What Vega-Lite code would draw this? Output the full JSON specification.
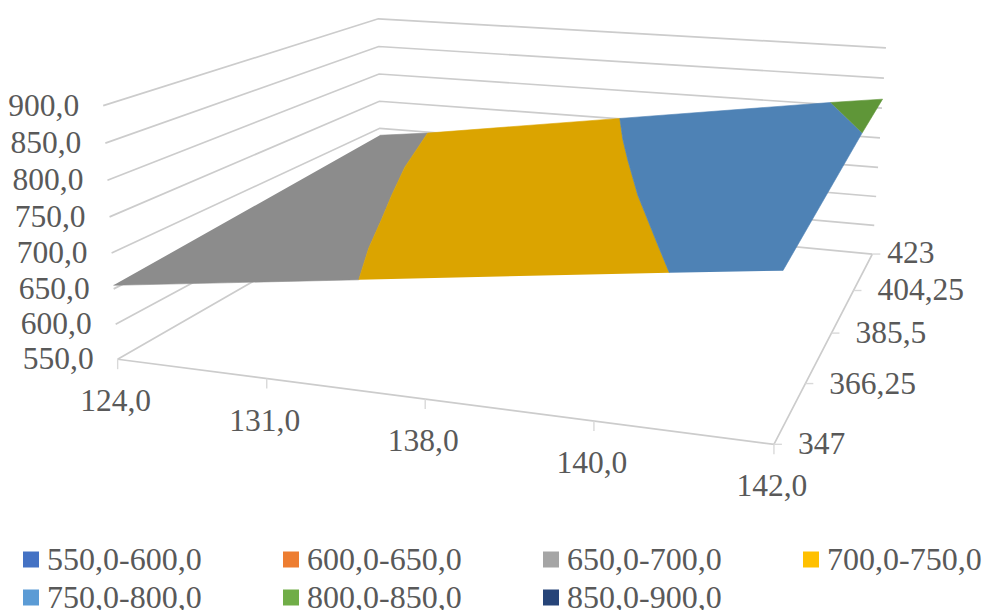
{
  "$schema": "https://vega.github.io/schema/vega-lite/v6.json",
  "width": 983,
  "height": 610,
  "autosize": {"type": "fit", "contains": "padding"},
  "padding": 0,
  "background": "#ffffff",
  "view": {"stroke": null},
  "config": {"text": {"font": "Liberation Serif", "fontSize": 31.5, "fill": "#595959"}},
  "datasets": {
    "rows": [
      {"kind":"grid","line":"550","seq":0,"cat":0,"depth":0,"value":550},{"kind":"grid","line":"550","seq":1,"cat":0,"depth":4,"value":550},{"kind":"grid","line":"550","seq":2,"cat":4,"depth":4,"value":550},
      {"kind":"grid","line":"600","seq":0,"cat":0,"depth":0,"value":600},{"kind":"grid","line":"600","seq":1,"cat":0,"depth":4,"value":600},{"kind":"grid","line":"600","seq":2,"cat":4,"depth":4,"value":600},
      {"kind":"grid","line":"650","seq":0,"cat":0,"depth":0,"value":650},{"kind":"grid","line":"650","seq":1,"cat":0,"depth":4,"value":650},{"kind":"grid","line":"650","seq":2,"cat":4,"depth":4,"value":650},
      {"kind":"grid","line":"700","seq":0,"cat":0,"depth":0,"value":700},{"kind":"grid","line":"700","seq":1,"cat":0,"depth":4,"value":700},{"kind":"grid","line":"700","seq":2,"cat":4,"depth":4,"value":700},
      {"kind":"grid","line":"750","seq":0,"cat":0,"depth":0,"value":750},{"kind":"grid","line":"750","seq":1,"cat":0,"depth":4,"value":750},{"kind":"grid","line":"750","seq":2,"cat":4,"depth":4,"value":750},
      {"kind":"grid","line":"800","seq":0,"cat":0,"depth":0,"value":800},{"kind":"grid","line":"800","seq":1,"cat":0,"depth":4,"value":800},{"kind":"grid","line":"800","seq":2,"cat":4,"depth":4,"value":800},
      {"kind":"grid","line":"850","seq":0,"cat":0,"depth":0,"value":850},{"kind":"grid","line":"850","seq":1,"cat":0,"depth":4,"value":850},{"kind":"grid","line":"850","seq":2,"cat":4,"depth":4,"value":850},
      {"kind":"grid","line":"900","seq":0,"cat":0,"depth":0,"value":900},{"kind":"grid","line":"900","seq":1,"cat":0,"depth":4,"value":900},{"kind":"grid","line":"900","seq":2,"cat":4,"depth":4,"value":900},
      {"kind":"grid","line":"front","seq":0,"cat":0,"depth":0,"value":550},{"kind":"grid","line":"front","seq":1,"cat":4,"depth":0,"value":550},{"kind":"grid","line":"front","seq":2,"cat":4,"depth":4,"value":550},

      {"kind":"xtick","label":"124,0","cat":0,"depth":0,"value":550},
      {"kind":"xtick","label":"131,0","cat":1,"depth":0,"value":550},
      {"kind":"xtick","label":"138,0","cat":2,"depth":0,"value":550},
      {"kind":"xtick","label":"140,0","cat":3,"depth":0,"value":550},
      {"kind":"xtick","label":"142,0","cat":4,"depth":0,"value":550},

      {"kind":"dtick","label":"347","cat":4,"depth":0,"value":550},
      {"kind":"dtick","label":"366,25","cat":4,"depth":1,"value":550},
      {"kind":"dtick","label":"385,5","cat":4,"depth":2,"value":550},
      {"kind":"dtick","label":"404,25","cat":4,"depth":3,"value":550},
      {"kind":"dtick","label":"423","cat":4,"depth":4,"value":550},

      {"kind":"vlabel","label":"550,0","cat":0,"depth":0,"value":550},
      {"kind":"vlabel","label":"600,0","cat":0,"depth":0,"value":600},
      {"kind":"vlabel","label":"650,0","cat":0,"depth":0,"value":650},
      {"kind":"vlabel","label":"700,0","cat":0,"depth":0,"value":700},
      {"kind":"vlabel","label":"750,0","cat":0,"depth":0,"value":750},
      {"kind":"vlabel","label":"800,0","cat":0,"depth":0,"value":800},
      {"kind":"vlabel","label":"850,0","cat":0,"depth":0,"value":850},
      {"kind":"vlabel","label":"900,0","cat":0,"depth":0,"value":900},

      {"kind":"surface","band":"650,0-700,0","seq":0,"cat":0,"depth":0,"value":655},
      {"kind":"surface","band":"650,0-700,0","seq":1,"cat":1.600,"depth":0,"value":700},
      {"kind":"surface","band":"650,0-700,0","seq":2,"cat":1.385,"depth":0.626,"value":700},
      {"kind":"surface","band":"650,0-700,0","seq":3,"cat":1.175,"depth":1.316,"value":700},
      {"kind":"surface","band":"650,0-700,0","seq":4,"cat":0.984,"depth":1.929,"value":700},
      {"kind":"surface","band":"650,0-700,0","seq":5,"cat":0.737,"depth":2.754,"value":700},
      {"kind":"surface","band":"650,0-700,0","seq":6,"cat":0.433,"depth":3.962,"value":700},
      {"kind":"surface","band":"650,0-700,0","seq":7,"cat":0,"depth":4,"value":687},

      {"kind":"surface","band":"700,0-750,0","seq":0,"cat":1.600,"depth":0,"value":700},
      {"kind":"surface","band":"700,0-750,0","seq":1,"cat":1.385,"depth":0.626,"value":700},
      {"kind":"surface","band":"700,0-750,0","seq":2,"cat":1.175,"depth":1.316,"value":700},
      {"kind":"surface","band":"700,0-750,0","seq":3,"cat":0.984,"depth":1.929,"value":700},
      {"kind":"surface","band":"700,0-750,0","seq":4,"cat":0.737,"depth":2.754,"value":700},
      {"kind":"surface","band":"700,0-750,0","seq":5,"cat":0.433,"depth":3.962,"value":700},
      {"kind":"surface","band":"700,0-750,0","seq":6,"cat":2.009,"depth":4.016,"value":750},
      {"kind":"surface","band":"700,0-750,0","seq":7,"cat":2.238,"depth":3.272,"value":750},
      {"kind":"surface","band":"700,0-750,0","seq":8,"cat":2.461,"depth":2.596,"value":750},
      {"kind":"surface","band":"700,0-750,0","seq":9,"cat":2.787,"depth":1.639,"value":750},
      {"kind":"surface","band":"700,0-750,0","seq":10,"cat":3.199,"depth":0.532,"value":750},
      {"kind":"surface","band":"700,0-750,0","seq":11,"cat":3.395,"depth":0.011,"value":750},

      {"kind":"surface","band":"750,0-800,0","seq":0,"cat":3.395,"depth":0.011,"value":750},
      {"kind":"surface","band":"750,0-800,0","seq":1,"cat":3.199,"depth":0.532,"value":750},
      {"kind":"surface","band":"750,0-800,0","seq":2,"cat":2.787,"depth":1.639,"value":750},
      {"kind":"surface","band":"750,0-800,0","seq":3,"cat":2.461,"depth":2.596,"value":750},
      {"kind":"surface","band":"750,0-800,0","seq":4,"cat":2.238,"depth":3.272,"value":750},
      {"kind":"surface","band":"750,0-800,0","seq":5,"cat":2.009,"depth":4.016,"value":750},
      {"kind":"surface","band":"750,0-800,0","seq":6,"cat":3.610,"depth":4.086,"value":800},
      {"kind":"surface","band":"750,0-800,0","seq":7,"cat":3.988,"depth":3.023,"value":800},
      {"kind":"surface","band":"750,0-800,0","seq":8,"cat":4,"depth":0,"value":767},

      {"kind":"surface","band":"800,0-850,0","seq":0,"cat":3.610,"depth":4.086,"value":800},
      {"kind":"surface","band":"800,0-850,0","seq":1,"cat":4,"depth":4,"value":815},
      {"kind":"surface","band":"800,0-850,0","seq":2,"cat":3.988,"depth":3.023,"value":800},

      {"kind":"legend","band":"550,0-600,0"},
      {"kind":"legend","band":"600,0-650,0"},
      {"kind":"legend","band":"650,0-700,0"},
      {"kind":"legend","band":"700,0-750,0"},
      {"kind":"legend","band":"750,0-800,0"},
      {"kind":"legend","band":"800,0-850,0"},
      {"kind":"legend","band":"850,0-900,0"}
    ]
  },
  "data": {"name": "rows"},
  "transform": [
    {"calculate": "1 - 0.1181*datum.cat/4 + 0.35894*datum.depth/4 - 0.04*(datum.value-550)/350", "as": "den"},
    {"calculate": "(566.97*datum.cat/4 + 400.04*datum.depth/4 + 115 - 18.5*(datum.value-550)/350)/datum.den", "as": "sx"},
    {"calculate": "(33.12*datum.cat/4 - 78.06*datum.depth/4 + 358 - 259*(datum.value-550)/350)/datum.den", "as": "sy"}
  ],
  "encoding": {
    "x": {"field": "sx", "type": "quantitative", "axis": null, "scale": {"domain": [0, 983], "nice": false, "zero": false}},
    "y": {"field": "sy", "type": "quantitative", "axis": null, "scale": {"domain": [610, 0], "nice": false, "zero": false}}
  },
  "layer": [
    {
      "transform": [{"filter": "datum.kind === 'grid'"}],
      "mark": {"type": "line", "stroke": "#cccccc", "strokeWidth": 1.7, "clip": false},
      "encoding": {"detail": {"field": "line"}, "order": {"field": "seq", "type": "quantitative"}}
    },
    {
      "transform": [{"filter": "datum.kind === 'xtick'"}, {"calculate": "datum.sy + 10", "as": "tickEnd"}],
      "mark": {"type": "rule", "stroke": "#d9d9d9", "strokeWidth": 1.4},
      "encoding": {"y2": {"field": "tickEnd"}}
    },
    {
      "transform": [{"filter": "datum.kind === 'dtick'"}, {"calculate": "datum.sx + 8", "as": "tickEnd"}],
      "mark": {"type": "rule", "stroke": "#d9d9d9", "strokeWidth": 1.4},
      "encoding": {"x2": {"field": "tickEnd"}}
    },
    {
      "transform": [{"filter": "datum.kind === 'surface'"}],
      "mark": {"type": "line", "strokeWidth": 0.6, "strokeJoin": "round"},
      "encoding": {
        "order": {"field": "seq", "type": "quantitative"},
        "fill": {
          "field": "band", "type": "nominal", "legend": null,
          "scale": {
            "domain": ["650,0-700,0", "700,0-750,0", "750,0-800,0", "800,0-850,0"],
            "range": ["#8c8c8c", "#dba400", "#4e82b5", "#5f9638"]
          }
        },
        "stroke": {
          "field": "band", "type": "nominal", "legend": null,
          "scale": {
            "domain": ["650,0-700,0", "700,0-750,0", "750,0-800,0", "800,0-850,0"],
            "range": ["#8c8c8c", "#dba400", "#4e82b5", "#5f9638"]
          }
        }
      }
    },
    {
      "transform": [{"filter": "datum.kind === 'vlabel'"}],
      "mark": {"type": "text", "align": "right", "baseline": "middle", "dx": -24, "dy": 1},
      "encoding": {"text": {"field": "label"}}
    },
    {
      "transform": [{"filter": "datum.kind === 'xtick'"}],
      "mark": {"type": "text", "align": "center", "baseline": "middle", "dx": -2, "dy": 43},
      "encoding": {"text": {"field": "label"}}
    },
    {
      "transform": [{"filter": "datum.kind === 'dtick' && datum.label !== '423'"}],
      "mark": {"type": "text", "align": "left", "baseline": "middle", "dx": 24, "dy": 1},
      "encoding": {"text": {"field": "label"}}
    },
    {
      "transform": [{"filter": "datum.label === '423'"}],
      "mark": {"type": "text", "align": "left", "baseline": "middle", "dx": 15, "dy": 0},
      "encoding": {"text": {"field": "label"}}
    },
    {
      "transform": [{"filter": "datum.kind === 'legend'"}],
      "mark": {"type": "square", "opacity": 0},
      "encoding": {
        "x": {"value": 0},
        "y": {"value": 0},
        "color": {
          "field": "band", "type": "nominal",
          "scale": {
            "domain": ["550,0-600,0", "600,0-650,0", "650,0-700,0", "700,0-750,0", "750,0-800,0", "800,0-850,0", "850,0-900,0"],
            "range": ["#4472c4", "#ed7d31", "#a5a5a5", "#ffc000", "#5b9bd5", "#70ad47", "#264478"]
          },
          "legend": {
            "title": null,
            "orient": "none",
            "legendX": 12,
            "legendY": 540.5,
            "direction": "horizontal",
            "columns": 4,
            "padding": 0,
            "symbolType": "square",
            "symbolSize": 256,
            "symbolOpacity": 1,
            "symbolStrokeWidth": 0,
            "labelFont": "Liberation Serif",
            "labelFontSize": 32,
            "labelColor": "#595959",
            "labelLimit": 400,
            "labelOffset": 0,
            "columnPadding": 73,
            "rowPadding": 6
          }
        }
      }
    }
  ]
}
